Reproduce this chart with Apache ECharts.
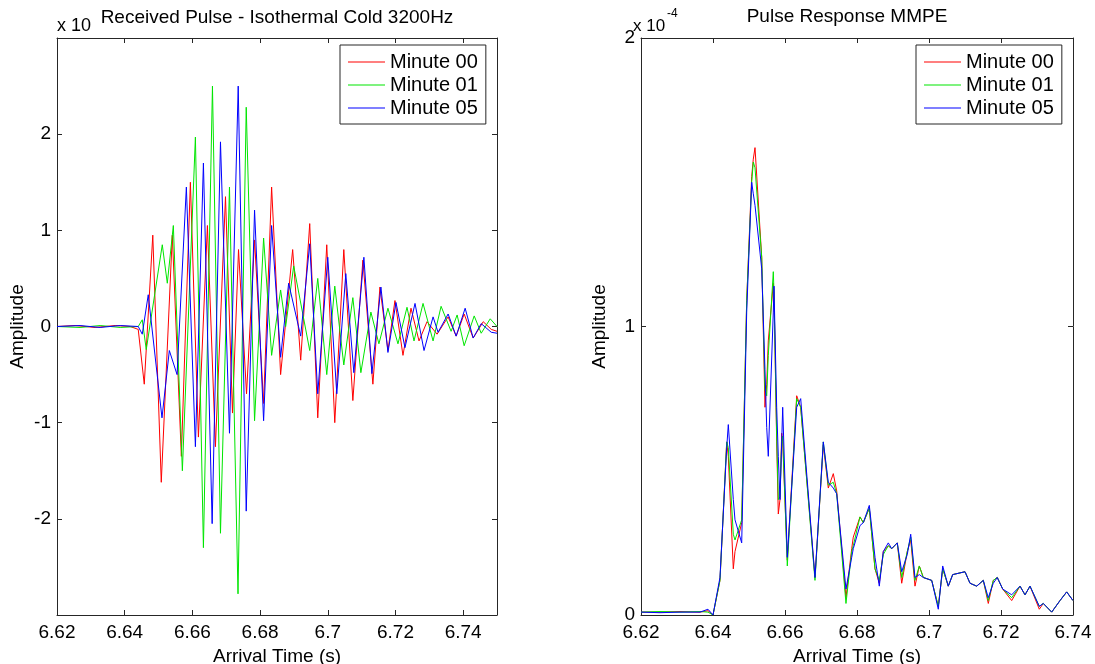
<!DOCTYPE html>
<html>
<head>
<meta charset="utf-8">
<script src="https://cdn.jsdelivr.net/npm/echarts@6/dist/echarts.min.js"></script>
<style>
html,body{margin:0;padding:0;background:#fff;}
#chart{width:1095px;height:664px;}
</style>
</head>
<body>
<div id="chart"></div>
<script>
// ---------- Left panel: Received Pulse (amplitude in units of the axis multiplier) ----------
const seriesNames = ['Minute 00', 'Minute 01', 'Minute 05'];
const leftXTicks = [6.62, 6.64, 6.66, 6.68, 6.7, 6.72, 6.74];
const leftYTicks = [-2, -1, 0, 1, 2];

const recvTime00 = [6.62000,6.62533,6.63126,6.63719,6.64163,6.64400,6.64578,6.64830,6.65081,6.65407,6.65674,6.65941,6.66178,6.66444,6.66681,6.66978,6.67185,6.67363,6.67600,6.67837,6.68104,6.68341,6.68607,6.68963,6.69200,6.69467,6.69704,6.69970,6.70207,6.70474,6.70741,6.71037,6.71333,6.71541,6.71778,6.71985,6.72222,6.72459,6.72696,6.72933,6.73230,6.73556,6.73793,6.74030,6.74296,6.74593,6.74830,6.75000];
const recvAmp00  = [0.00,0.01,-0.01,0.01,0.00,-0.03,-0.60,0.95,-1.62,0.95,-1.35,1.50,-1.15,1.05,-1.25,1.35,-0.90,0.80,-0.70,0.90,-0.80,1.45,-0.50,0.80,-0.35,1.07,-0.95,0.85,-1.00,0.80,-0.77,0.69,-0.60,0.41,-0.25,0.27,-0.30,0.19,-0.15,0.05,-0.08,0.10,-0.10,0.13,-0.12,0.05,-0.03,-0.05];

const recvTime01 = [6.62000,6.62681,6.63274,6.63867,6.64400,6.64519,6.64637,6.65111,6.65259,6.65437,6.65704,6.66089,6.66326,6.66593,6.66830,6.67096,6.67348,6.67591,6.67837,6.68104,6.68341,6.68607,6.68756,6.68993,6.69467,6.69704,6.69970,6.70207,6.70474,6.70741,6.70978,6.71274,6.71511,6.71778,6.72074,6.72341,6.72548,6.72815,6.73111,6.73348,6.73644,6.73822,6.74030,6.74326,6.74533,6.74800,6.75000];
const recvAmp01  = [0.00,-0.01,0.01,-0.01,0.00,0.07,-0.24,0.85,0.45,1.05,-1.50,1.97,-2.30,2.50,-2.15,1.45,-2.78,2.28,-0.98,0.92,-0.30,0.38,0.00,0.63,-0.25,0.50,-0.50,0.42,-0.40,0.30,-0.48,0.15,-0.18,0.19,-0.18,0.20,-0.15,0.24,-0.15,0.21,-0.05,0.12,-0.20,0.11,-0.07,0.08,0.00];

const recvTime05 = [6.62000,6.62681,6.63274,6.63867,6.64400,6.64519,6.64696,6.65102,6.65319,6.65547,6.65822,6.66089,6.66326,6.66584,6.66830,6.67096,6.67354,6.67591,6.67837,6.68104,6.68341,6.68607,6.68844,6.69200,6.69467,6.69704,6.70000,6.70267,6.70533,6.70770,6.71067,6.71304,6.71570,6.71778,6.72015,6.72281,6.72578,6.72844,6.73111,6.73259,6.73556,6.73793,6.74059,6.74296,6.74533,6.74830,6.75000];
const recvAmp05  = [0.00,0.01,-0.01,0.01,0.00,-0.08,0.33,-0.95,-0.25,-0.50,1.45,-1.25,1.70,-2.05,1.92,-1.11,2.50,-1.92,1.21,-0.98,1.05,-0.32,0.45,-0.10,0.86,-0.70,0.72,-0.70,0.55,-0.48,0.72,-0.49,0.41,-0.27,0.25,-0.22,0.24,-0.25,0.10,-0.06,0.13,-0.10,0.19,-0.12,0.03,-0.06,-0.07];

// ---------- Right panel: Pulse Response MMPE (amplitude in units of 1e-4) ----------
const rightXTicks = [6.62, 6.64, 6.66, 6.68, 6.7, 6.72, 6.74];
const rightYTicks = [0, 1, 2];
const mmpeTime = [6.62000,6.62528,6.63083,6.63639,6.63861,6.64000,6.64194,6.64381,6.64425,6.64564,6.64611,6.64797,6.64936,6.65075,6.65119,6.65167,6.65353,6.65444,6.65492,6.65536,6.65675,6.65694,6.65769,6.65814,6.65861,6.65908,6.65936,6.66064,6.66325,6.66436,6.66833,6.67064,6.67203,6.67342,6.67436,6.67694,6.67853,6.67897,6.68083,6.68175,6.68342,6.68500,6.68619,6.68731,6.68869,6.68964,6.69119,6.69242,6.69397,6.69492,6.69611,6.69731,6.69842,6.70075,6.70258,6.70381,6.70536,6.70658,6.71000,6.71139,6.71325,6.71508,6.71647,6.71786,6.71897,6.72047,6.72297,6.72528,6.72667,6.72806,6.73064,6.73175,6.73408,6.73639,6.73825,6.74000];
const mmpe00 = [0.010,0.010,0.012,0.010,0.015,0.000,0.12,0.60,0.55,0.16,0.22,0.32,1.09,1.52,1.58,1.62,1.24,0.72,0.80,0.95,1.15,1.12,0.60,0.35,0.40,0.63,0.60,0.19,0.76,0.72,0.13,0.59,0.44,0.49,0.43,0.06,0.23,0.27,0.34,0.32,0.37,0.16,0.11,0.22,0.24,0.23,0.25,0.11,0.22,0.26,0.10,0.17,0.13,0.12,0.03,0.16,0.10,0.14,0.15,0.11,0.10,0.12,0.04,0.12,0.13,0.09,0.05,0.10,0.07,0.10,0.02,0.04,0.01,0.05,0.08,0.05];
const mmpe01 = [0.010,0.012,0.010,0.012,0.010,0.000,0.12,0.60,0.58,0.28,0.26,0.33,1.09,1.50,1.57,1.55,1.24,0.78,0.76,0.90,1.19,1.12,0.62,0.40,0.41,0.60,0.62,0.17,0.75,0.72,0.12,0.60,0.45,0.46,0.42,0.04,0.22,0.24,0.34,0.32,0.37,0.16,0.12,0.21,0.24,0.23,0.25,0.13,0.22,0.27,0.12,0.17,0.13,0.12,0.03,0.16,0.10,0.14,0.15,0.11,0.10,0.12,0.05,0.12,0.13,0.09,0.06,0.10,0.07,0.10,0.03,0.04,0.01,0.05,0.08,0.05];
const mmpe05 = [0.010,0.008,0.010,0.010,0.020,0.000,0.13,0.58,0.66,0.40,0.33,0.25,1.05,1.50,1.46,1.42,1.20,0.85,0.65,0.55,1.05,1.14,0.72,0.55,0.40,0.60,0.72,0.20,0.72,0.75,0.13,0.60,0.46,0.44,0.42,0.09,0.20,0.23,0.31,0.32,0.38,0.20,0.10,0.22,0.25,0.23,0.25,0.15,0.21,0.28,0.13,0.14,0.13,0.12,0.02,0.17,0.10,0.14,0.15,0.11,0.10,0.12,0.06,0.11,0.13,0.09,0.07,0.10,0.07,0.10,0.03,0.04,0.01,0.05,0.08,0.05];

const colors = ['#ff0000', '#00e600', '#0000ff'];
const FONT = '"Liberation Sans", Arial, sans-serif';
const FS = 19;

function zip(t, v) { return t.map((x, i) => [x, v[i]]); }
function fmtTicks(ticks) {
  return function (v) {
    for (const t of ticks) if (Math.abs(v - t) < 1e-6) return String(t);
    return '';
  };
}

const grids = [
  { left: 57, top: 38, width: 440, height: 577, containLabel: false, outerBoundsMode: 'none' },
  { left: 641, top: 38, width: 432, height: 577, containLabel: false, outerBoundsMode: 'none' }
];

function mkX(grid, min, max, bottom, ticks) {
  return {
    type: 'value', gridIndex: grid, min: min, max: max, interval: 0.02,
    position: bottom ? 'bottom' : 'top',
    splitLine: { show: false },
    axisLine: { show: true, onZero: false, lineStyle: { color: '#262626', width: 1 } },
    axisTick: { show: true, inside: true, length: 5, lineStyle: { color: '#262626' } },
    axisLabel: bottom ? { show: true, color: '#000', fontSize: FS, fontFamily: FONT, margin: 8, formatter: fmtTicks(ticks) } : { show: false },
    name: bottom ? 'Arrival Time (s)' : '',
    nameLocation: 'middle', nameGap: 28,
    nameTextStyle: { color: '#000', fontSize: FS, fontFamily: FONT }
  };
}
function mkY(grid, min, max, left, ticks, gap) {
  return {
    type: 'value', gridIndex: grid, min: min, max: max, interval: 1,
    position: left ? 'left' : 'right',
    splitLine: { show: false },
    axisLine: { show: true, onZero: false, lineStyle: { color: '#262626', width: 1 } },
    axisTick: { show: true, inside: true, length: 5, lineStyle: { color: '#262626' } },
    axisLabel: left ? { show: true, color: '#000', fontSize: FS, fontFamily: FONT, margin: 6, formatter: fmtTicks(ticks) } : { show: false },
    name: left ? 'Amplitude' : '',
    nameLocation: 'middle', nameRotate: 90, nameGap: gap,
    nameTextStyle: { color: '#000', fontSize: FS, fontFamily: FONT }
  };
}

function mkSeries(name, data, color, xi, yi) {
  return {
    type: 'line', name: name, data: data, xAxisIndex: xi, yAxisIndex: yi,
    showSymbol: false, symbol: 'none', smooth: false,
    lineStyle: { color: color, width: 1 }, itemStyle: { color: color },
    animation: false, silent: true
  };
}

function mkLegend(left) {
  return {
    left: left, top: 45, orient: 'vertical',
    data: seriesNames,
    icon: 'rect', itemWidth: 37, itemHeight: 1, itemGap: 3,
    borderColor: '#262626', borderWidth: 1, padding: [7, 8, 6, 8],
    backgroundColor: '#fff',
    textStyle: { color: '#000', fontSize: 20, fontFamily: FONT, padding: [0, 0, 0, 0] },
    selectedMode: false
  };
}

const chart = echarts.init(document.getElementById('chart'), null, { renderer: 'canvas' });
chart.setOption({
  animation: false,
  backgroundColor: '#fff',
  grid: grids,
  legend: [mkLegend(340), mkLegend(916)],
  xAxis: [
    mkX(0, 6.62, 6.75, true, leftXTicks),
    mkX(0, 6.62, 6.75, false, leftXTicks),
    mkX(1, 6.62, 6.74, true, rightXTicks),
    mkX(1, 6.62, 6.74, false, rightXTicks)
  ],
  yAxis: [
    mkY(0, -3, 3, true, leftYTicks, 30),
    mkY(0, -3, 3, false, leftYTicks, 30),
    mkY(1, 0, 2, true, rightYTicks, 32),
    mkY(1, 0, 2, false, rightYTicks, 32)
  ],
  series: [
    mkSeries(seriesNames[0], zip(recvTime00, recvAmp00), colors[0], 0, 0),
    mkSeries(seriesNames[1], zip(recvTime01, recvAmp01), colors[1], 0, 0),
    mkSeries(seriesNames[2], zip(recvTime05, recvAmp05), colors[2], 0, 0),
    mkSeries(seriesNames[0], zip(mmpeTime, mmpe00), colors[0], 2, 2),
    mkSeries(seriesNames[1], zip(mmpeTime, mmpe01), colors[1], 2, 2),
    mkSeries(seriesNames[2], zip(mmpeTime, mmpe05), colors[2], 2, 2)
  ],
  graphic: [
    { type: 'text', left: 57, top: 17, style: { text: 'x 10', fill: '#000', font: '18px ' + FONT } },
    { type: 'text', x: 277, y: 18, style: { text: 'Received Pulse - Isothermal Cold 3200Hz', fill: '#000', font: FS + 'px ' + FONT, align: 'center', verticalAlign: 'middle' } },
    { type: 'text', left: 633, top: 18, style: { text: 'x 10', fill: '#000', font: '17px ' + FONT } },
    { type: 'text', left: 667, top: 8, style: { text: '-4', fill: '#000', font: '12px ' + FONT } },
    { type: 'text', x: 847, y: 17, style: { text: 'Pulse Response MMPE', fill: '#000', font: FS + 'px ' + FONT, align: 'center', verticalAlign: 'middle' } }
  ]
});
</script>
</body>
</html>
